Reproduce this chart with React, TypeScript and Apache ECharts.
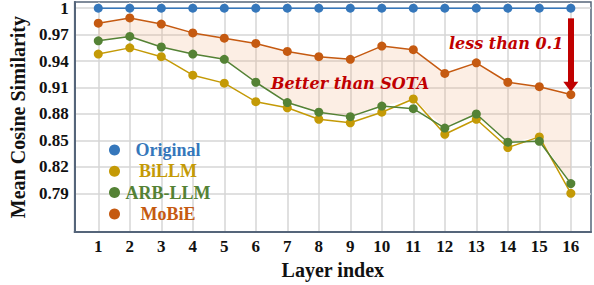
import React, { useEffect, useRef } from "react";
import * as echarts from "echarts";

const layers = [1, 2, 3, 4, 5, 6, 7, 8, 9, 10, 11, 12, 13, 14, 15, 16];
const yTicks = [0.79, 0.82, 0.85, 0.88, 0.91, 0.94, 0.97, 1];
const original = [1, 1, 1, 1, 1, 1, 1, 1, 1, 1, 1, 1, 1, 1, 1, 1];
const billm = [0.948, 0.955, 0.945, 0.924, 0.915, 0.894, 0.887, 0.874, 0.87, 0.882, 0.897, 0.857, 0.874, 0.842, 0.854, 0.79];
const arbllm = [0.963, 0.968, 0.956, 0.948, 0.942, 0.916, 0.893, 0.882, 0.877, 0.889, 0.886, 0.864, 0.88, 0.848, 0.849, 0.801];
const mobie = [0.983, 0.989, 0.982, 0.972, 0.966, 0.96, 0.951, 0.945, 0.942, 0.957, 0.953, 0.926, 0.938, 0.916, 0.911, 0.902];
const names = ["Original", "BiLLM", "ARB-LLM", "MoBiE"];
const colors = ["#3577BB", "#C49A06", "#548235", "#C55A11"];

const FONT = "Liberation Serif";

export default function App() {
  const ref = useRef<HTMLDivElement>(null);
  useEffect(() => {
    const chart = echarts.init(ref.current!, null, { renderer: "svg" });
    const envelope = layers.map((x, i) => Math.max(billm[i], arbllm[i]));
    const seriesData = [original, billm, arbllm, mobie];
    const lineSeries = names.map((n, k) => ({
      name: n,
      type: "line",
      data: layers.map((x, i) => [x, seriesData[k][i]]),
      symbol: "circle",
      symbolSize: 9,
      z: 3 + k,
      lineStyle: { color: colors[k], width: 1.5 },
      itemStyle: { color: colors[k] },
    }));
    const rich: any = {};
    names.forEach((n, k) => {
      rich["c" + k] = {
        color: colors[k],
        fontFamily: FONT,
        fontWeight: "bold",
        fontSize: 18,
        width: 86,
        align: "center",
        lineHeight: 20,
      };
    });
    const annot = (text: string, left: number, top: number) => ({
      type: "text",
      left,
      top,
      z: 100,
      style: {
        text,
        fontFamily: "DejaVu Serif",
        fontWeight: "bold",
        fontStyle: "italic",
        fontSize: 16,
        fill: "#C00000",
      },
    });
    chart.setOption({
      animation: false,
      grid: {
        left: 69,
        right: 3,
        top: 2,
        bottom: 42,
        show: true,
        borderColor: "#55657a",
        borderWidth: 1.5,
        backgroundColor: "transparent",
      },
      xAxis: {
        type: "value",
        min: 0.25,
        max: 16.64,
        name: "Layer index",
        nameLocation: "middle",
        nameGap: 24,
        nameTextStyle: { fontFamily: FONT, fontWeight: "bold", fontSize: 20, color: "#111" },
        axisLine: { show: true, lineStyle: { color: "#55657a", width: 2 } },
        axisTick: { show: false, customValues: layers },
        axisLabel: {
          customValues: layers,
          fontFamily: FONT,
          fontWeight: "bold",
          fontSize: 17,
          color: "#111",
          margin: 6,
        },
        splitLine: { show: true, lineStyle: { color: "#d6d6d6", width: 1.5 } },
      },
      yAxis: {
        type: "value",
        min: 0.746,
        max: 1.007,
        name: "Mean Cosine Similarity",
        nameLocation: "middle",
        nameGap: 46,
        nameTextStyle: { fontFamily: FONT, fontWeight: "bold", fontSize: 20, color: "#111" },
        axisLine: { show: true, lineStyle: { color: "#55657a", width: 2 } },
        axisTick: { show: false, customValues: yTicks },
        axisLabel: {
          customValues: yTicks,
          fontFamily: FONT,
          fontWeight: "bold",
          fontSize: 17,
          color: "#111",
          margin: 6,
          formatter: (v: number) => String(Math.round(v * 100) / 100),
        },
        splitLine: { show: true, lineStyle: { color: "#d6d6d6", width: 1.5 } },
      },
      legend: {
        orient: "vertical",
        left: 104,
        top: 136,
        icon: "circle",
        itemWidth: 11,
        itemHeight: 11,
        itemGap: 3.3,
        formatter: (n: string) => `{c${names.indexOf(n)}|${n}}`,
        textStyle: { rich },
        data: names,
      },
      series: [
        {
          name: "fill",
          type: "custom",
          silent: true,
          z: 1,
          data: [0],
          renderItem: (params: any, api: any) => {
            const top = layers.map((x, i) => api.coord([x, mobie[i]]));
            const bottom = layers.map((x, i) => api.coord([x, envelope[i]])).reverse();
            return {
              type: "polygon",
              shape: { points: top.concat(bottom) },
              style: { fill: "rgba(240,170,120,0.2)" },
            };
          },
        },
        {
          name: "arrow",
          type: "line",
          data: [],
          silent: true,
          markLine: {
            silent: true,
            symbol: ["none", "triangle"],
            symbolSize: [15, 10],
            label: { show: false },
            lineStyle: { color: "#C00000", width: 6, type: "solid" },
            data: [[{ coord: [16, 0.9885] }, { coord: [16, 0.911] }]],
          },
        },
        ...lineSeries,
      ],
      graphic: [annot("Better than SOTA", 271, 75), annot("less than 0.1", 449, 35)],
    });
    return () => chart.dispose();
  }, []);
  return <div ref={ref} style={{ width: 594, height: 285, position: "absolute", left: 0, top: 0 }} />;
}
